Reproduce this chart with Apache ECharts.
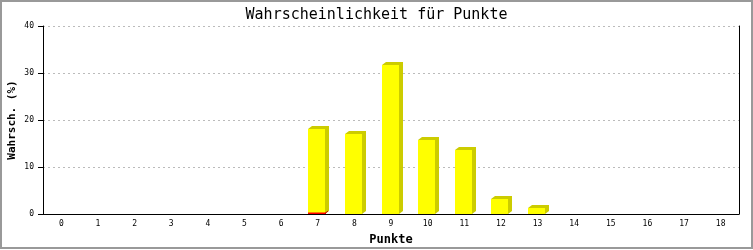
<!DOCTYPE html>
<html>
<head>
<meta charset="utf-8">
<script src="https://cdn.jsdelivr.net/npm/echarts@6/dist/echarts.min.js"></script>
<style>
html,body{margin:0;padding:0;background:#fff;}
#c{width:753px;height:250px;}
</style>
</head>
<body>
<div id="c"></div>
<script>
var categories = ['0','1','2','3','4','5','6','7','8','9','10','11','12','13','14','15','16','17','18'];
var yellowValues = [0,0,0,0,0,0,0,18.1,17.0,31.7,15.7,13.6,3.2,1.3,0,0,0,0,0];
var redValues = [0,0,0,0,0,0,0,0.1,0,0,0,0,0,0,0,0,0,0,0];
var yTicks = [0,10,20,30,40];

var DX = 4, DY = 3;
function geom(params, api) {
  var c = api.value(0), v = api.value(1);
  var top = api.coord([c, v]);
  var base = api.coord([c, 0]);
  var band = api.size([1, 0])[0];
  var bw = Math.round(band * 0.47);
  var x = Math.round(top[0] - bw / 2) - 1;
  var b = Math.round(base[1]);
  var y = Math.round(top[1]);
  return { x: x, y: y, b: b, bw: bw, v: v };
}
function yellow3d(params, api) {
  var g = geom(params, api);
  if (!(g.v > 0)) return null;
  var x = g.x, y = g.y, b = g.b, bw = g.bw;
  return {
    type: 'group',
    children: [
      { type: 'polygon', shape: { points: [[x, y], [x + DX, y - DY], [x + bw + DX, y - DY], [x + bw + DX, b - DY], [x + bw, b], [x + bw, y]] }, style: { fill: '#cccc00' } },
      { type: 'rect', shape: { x: x, y: y, width: bw, height: b - y }, style: { fill: '#ffff00' } }
    ]
  };
}
function redFlat(params, api) {
  var g = geom(params, api);
  if (!(g.v > 0)) return null;
  var x = g.x, b = g.b, bw = g.bw;
  return {
    type: 'group',
    children: [
      { type: 'rect', shape: { x: x, y: b - 1.5, width: bw + 1, height: 1.5 }, style: { fill: '#ff0000' } },
      { type: 'line', shape: { x1: x + bw, y1: b - 0.5, x2: x + bw + 3, y2: b - 3 }, style: { stroke: '#cc0000', lineWidth: 1 } }
    ]
  };
}

var chart = echarts.init(document.getElementById('c'), null, { renderer: 'canvas' });
var mono = 'DejaVu Sans Mono';
chart.setOption({
  animation: false,
  backgroundColor: '#fff',
  title: {
    text: 'Wahrscheinlichkeit für Punkte',
    left: 'center', top: 3,
    textStyle: { fontFamily: mono, fontSize: 15, fontWeight: 'normal', color: '#000' }
  },
  graphic: [{
    type: 'rect', z: 100, silent: true,
    shape: { x: 1, y: 1, width: 751, height: 247 },
    style: { fill: null, stroke: '#999', lineWidth: 2 }
  }],
  grid: { left: 43, right: 14, top: 26, bottom: 36, containLabel: false, outerBoundsMode: 'none' },
  xAxis: {
    type: 'category',
    data: categories,
    boundaryGap: true,
    name: 'Punkte',
    nameLocation: 'middle',
    nameGap: 20,
    nameTextStyle: { fontFamily: mono, fontSize: 12, fontWeight: 'bold', color: '#000' },
    axisLine: { lineStyle: { color: '#000', width: 1 } },
    axisTick: { show: false },
    axisLabel: { fontFamily: mono, fontSize: 8, color: '#000', margin: 6, interval: 0 },
    splitLine: { show: false }
  },
  yAxis: [{
    type: 'value',
    min: yTicks[0], max: yTicks[yTicks.length - 1], interval: 10,
    name: 'Wahrsch. (%)',
    nameLocation: 'middle',
    nameGap: 25,
    nameMoveOverlap: false,
    nameTextStyle: { fontFamily: mono, fontSize: 11, fontWeight: 'bold', color: '#000' },
    axisLine: { show: true, lineStyle: { color: '#000', width: 1 } },
    axisTick: { show: true, length: 5, lineStyle: { color: '#000' } },
    axisLabel: { fontFamily: mono, fontSize: 8, color: '#000', margin: 9 },
    splitLine: { show: true, lineStyle: { color: '#bbb', type: [2, 3], width: 1 } }
  }, {
    type: 'value',
    position: 'right',
    min: yTicks[0], max: yTicks[yTicks.length - 1], interval: 10,
    axisLine: { show: true, lineStyle: { color: '#000', width: 1 } },
    axisTick: { show: false },
    axisLabel: { show: false },
    splitLine: { show: false }
  }],
  series: [{
    type: 'custom',
    name: 'Punkte',
    renderItem: yellow3d,
    data: yellowValues.map(function (v, i) { return [i, v]; }),
    encode: { x: 0, y: 1 },
    z: 3
  }, {
    type: 'custom',
    name: 'rot',
    renderItem: redFlat,
    data: redValues.map(function (v, i) { return [i, v]; }),
    encode: { x: 0, y: 1 },
    z: 4
  }]
});
</script>
</body>
</html>
